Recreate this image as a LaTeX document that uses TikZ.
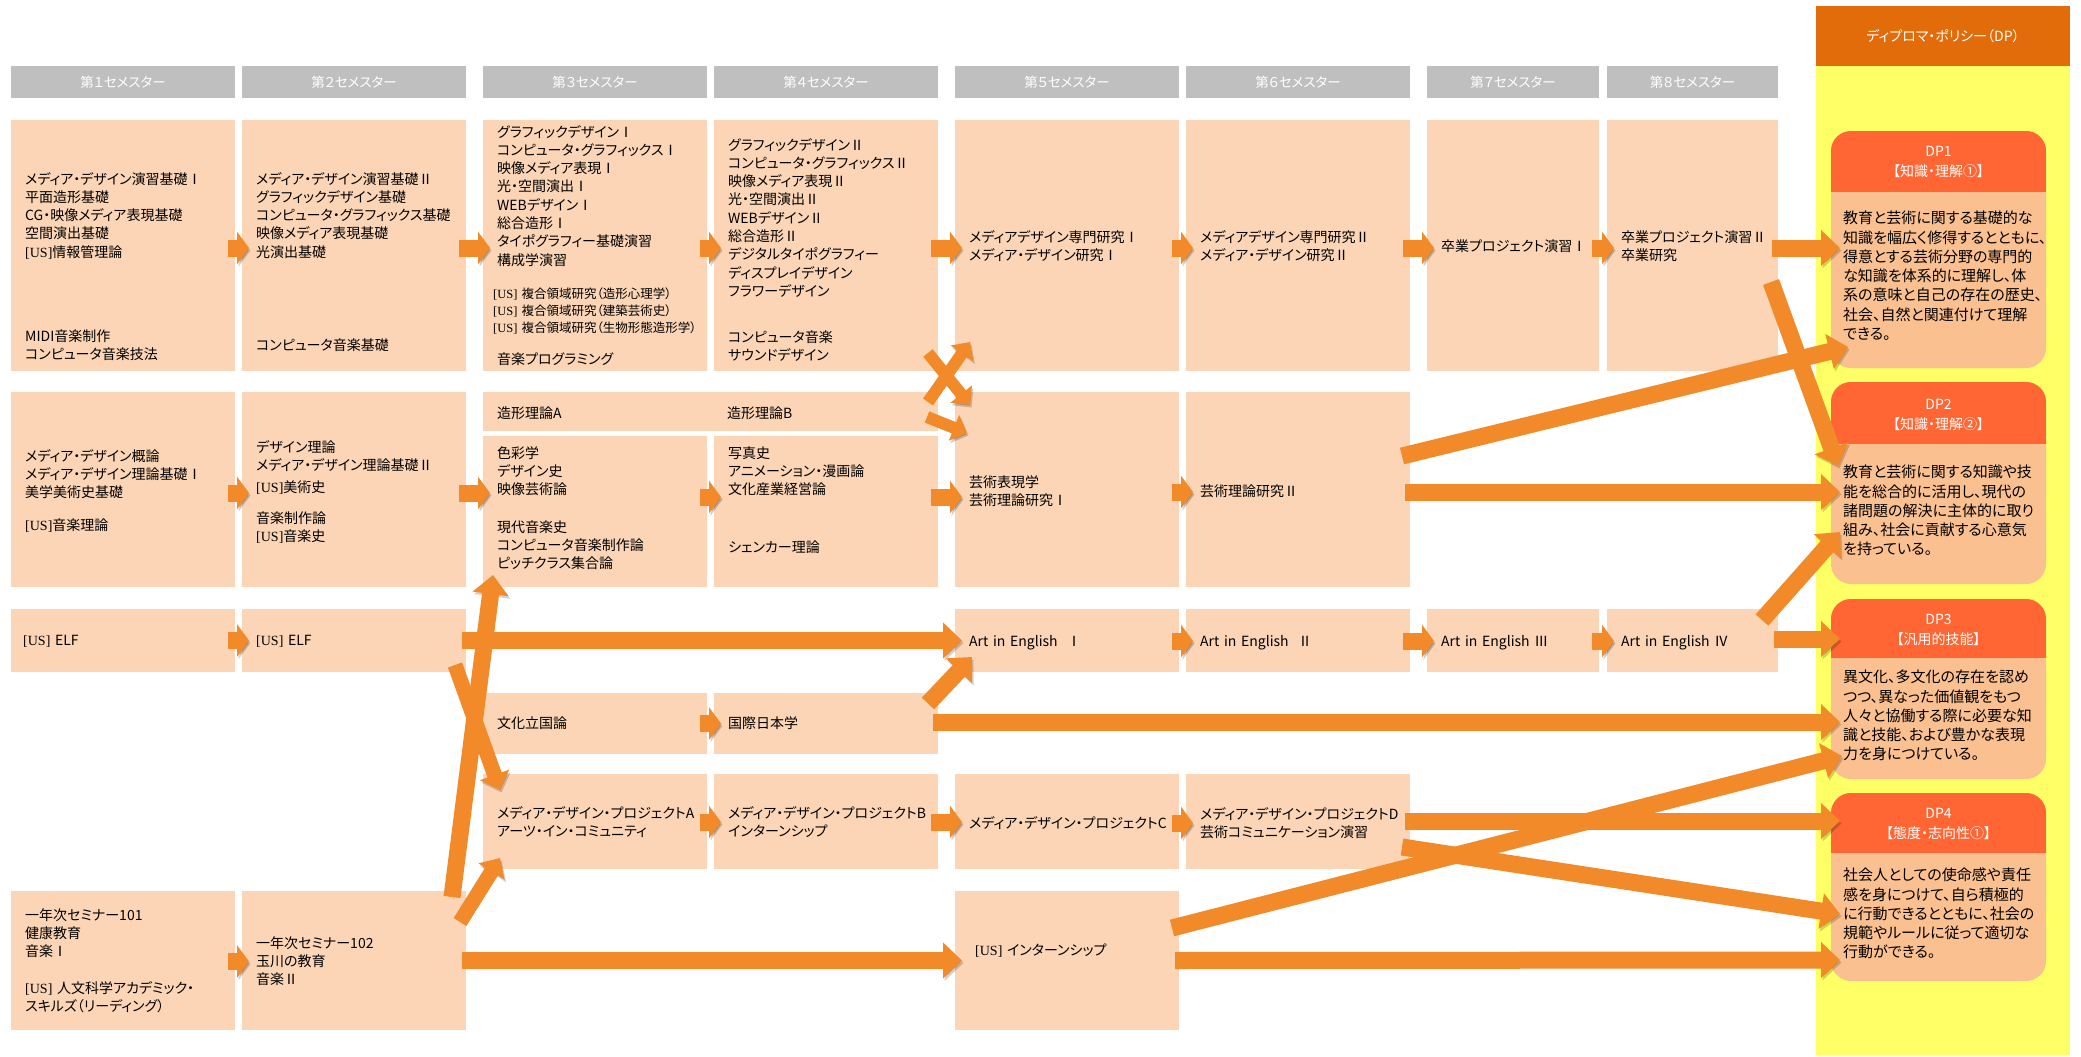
\documentclass[tikz,border=0pt]{standalone}
\usepackage{fontspec}
\setmainfont[RawFeature=+palt]{Noto Sans CJK JP}
\newfontfamily\usfont{Liberation Serif}
\usetikzlibrary{arrows.meta,calc}
\definecolor{boxc}{HTML}{FBD5B5}
\definecolor{hdrc}{HTML}{BFBFBF}
\definecolor{yel}{HTML}{FFFF66}
\definecolor{dptop}{HTML}{E26B0A}
\definecolor{dphead}{HTML}{FF6633}
\definecolor{dpbody}{HTML}{FAC090}
\definecolor{arrc}{HTML}{F28A2A}
\newcommand\usmark{{\usfont[US]}}
\begin{document}
\begin{tikzpicture}[x=1pt,y=-1pt,
  cbox/.style={fill=boxc, draw=none, inner sep=0pt, outer sep=0pt, anchor=north west},
  hbox/.style={fill=hdrc, draw=none, inner sep=0pt, outer sep=0pt, text=white, minimum height=32pt, font=\fontsize{13.5}{15}\selectfont},
  txt/.style={anchor=north west, inner sep=0pt, text width=230pt, align=left, font=\fontsize{14}{18.3}\selectfont, execute at begin node=\strut},
  stxt/.style={txt, font=\fontsize{12.5}{16.7}\selectfont},
  dpbox/.style={fill=dpbody, draw=none, rounded corners=20pt, inner sep=0pt, outer sep=0pt, anchor=north west, minimum width=215pt},
  dphtxt/.style={text=white, align=center, inner sep=0pt, font=\fontsize{14}{20}\selectfont},
  dptxt/.style={anchor=north west, inner sep=0pt, text width=230pt, align=left, font=\fontsize{15}{19.3}\selectfont, execute at begin node=\strut},
  shad/.style={preaction={draw=black, opacity=0.18, transform canvas={shift={(1.5pt,-2.5pt)}}}},
  sarr/.style={shad, draw=arrc, line width=17pt, -{Triangle[length=12pt,width=32pt]}},
  larr/.style={shad, draw=arrc, line width=17pt, -{Triangle[length=19pt,width=35pt]}},
  marr/.style={shad, draw=arrc, line width=15pt, -{Triangle[length=16pt,width=30pt]}},
  xarr/.style={shad, draw=arrc, line width=12pt, -{Triangle[length=14pt,width=27pt]}},
]
\useasboundingbox (0,0) rectangle (2081,1057);
\fill[white] (0,0) rectangle (2081,1057);

% ---------- semester headers ----------
\node[hbox, minimum width=224pt] (h1) at (123,82) {第１セメスター};
\node[hbox, minimum width=224pt] (h2) at (354,82) {第２セメスター};
\node[hbox, minimum width=224pt] (h3) at (595,82) {第３セメスター};
\node[hbox, minimum width=224pt] (h4) at (826,82) {第４セメスター};
\node[hbox, minimum width=224pt] (h5) at (1067,82) {第５セメスター};
\node[hbox, minimum width=224pt] (h6) at (1298,82) {第６セメスター};
\node[hbox, minimum width=172pt] (h7) at (1513,82) {第７セメスター};
\node[hbox, minimum width=171pt] (h8) at (1692.5,82) {第８セメスター};

% ---------- course boxes ----------
% row 1
\node[cbox, minimum width=224pt, minimum height=251pt] (a1) at (11,120) {};
\node[cbox, minimum width=224pt, minimum height=251pt] (a2) at (242,120) {};
\node[cbox, minimum width=224pt, minimum height=251pt] (a3) at (483,120) {};
\node[cbox, minimum width=224pt, minimum height=251pt] (a4) at (714,120) {};
\node[cbox, minimum width=224pt, minimum height=251pt] (a5) at (955,120) {};
\node[cbox, minimum width=224pt, minimum height=251pt] (a6) at (1186,120) {};
\node[cbox, minimum width=172pt, minimum height=251pt] (a7) at (1427,120) {};
\node[cbox, minimum width=171pt, minimum height=251pt] (a8) at (1607,120) {};
% row 2
\node[cbox, minimum width=224pt, minimum height=195pt] (b1) at (11,392) {};
\node[cbox, minimum width=224pt, minimum height=195pt] (b2) at (242,392) {};
\node[cbox, minimum width=455pt, minimum height=39pt] (band) at (483,392) {};
\node[cbox, minimum width=224pt, minimum height=151pt] (b3) at (483,436) {};
\node[cbox, minimum width=224pt, minimum height=151pt] (b4) at (714,436) {};
\node[cbox, minimum width=224pt, minimum height=195pt] (b5) at (955,392) {};
\node[cbox, minimum width=224pt, minimum height=195pt] (b6) at (1186,392) {};
% ELF row
\node[cbox, minimum width=224pt, minimum height=63pt] (e1) at (11,609) {};
\node[cbox, minimum width=224pt, minimum height=63pt] (e2) at (242,609) {};
\node[cbox, minimum width=224pt, minimum height=63pt] (e5) at (955,609) {};
\node[cbox, minimum width=224pt, minimum height=63pt] (e6) at (1186,609) {};
\node[cbox, minimum width=172pt, minimum height=63pt] (e7) at (1427,609) {};
\node[cbox, minimum width=171pt, minimum height=63pt] (e8) at (1607,609) {};
% culture row
\node[cbox, minimum width=224pt, minimum height=61pt] (f3) at (483,693) {};
\node[cbox, minimum width=224pt, minimum height=61pt] (f4) at (714,693) {};
% project row
\node[cbox, minimum width=224pt, minimum height=95pt] (m3) at (483,774) {};
\node[cbox, minimum width=224pt, minimum height=95pt] (m4) at (714,774) {};
\node[cbox, minimum width=224pt, minimum height=95pt] (m5) at (955,774) {};
\node[cbox, minimum width=224pt, minimum height=95pt] (m6) at (1186,774) {};
% seminar row
\node[cbox, minimum width=224pt, minimum height=139pt] (s1) at (11,891) {};
\node[cbox, minimum width=224pt, minimum height=139pt] (s2) at (242,891) {};
\node[cbox, minimum width=224pt, minimum height=139pt] (s5) at (955,891) {};

% ---------- course texts ----------
\node[txt] (a1t) at (25,171) {メディア・デザイン演習基礎Ⅰ\\平面造形基礎\\CG・映像メディア表現基礎\\空間演出基礎\\\usmark{}情報管理論};
\node[txt] (a1u) at (25,328) {MIDI音楽制作\\コンピュータ音楽技法};
\node[txt] (a2t) at (256,171) {メディア・デザイン演習基礎Ⅱ\\グラフィックデザイン基礎\\コンピュータ・グラフィックス基礎\\映像メディア表現基礎\\光演出基礎};
\node[txt] (a2u) at (256,337) {コンピュータ音楽基礎};
\node[txt] (a3t) at (497,124) {グラフィックデザインⅠ\\コンピュータ・グラフィックスⅠ\\映像メディア表現Ⅰ\\光・空間演出Ⅰ\\WEBデザインⅠ\\総合造形Ⅰ\\タイポグラフィー基礎演習\\構成学演習};
\node[stxt] (a3u) at (493,287) {\usmark{} 複合領域研究（造形心理学）\\\usmark{} 複合領域研究（建築芸術史）\\\usmark{} 複合領域研究（生物形態造形学）};
\node[txt] (a3v) at (497,351) {音楽プログラミング};
\node[txt] (a4t) at (728,137) {グラフィックデザインⅡ\\コンピュータ・グラフィックスⅡ\\映像メディア表現Ⅱ\\光・空間演出Ⅱ\\WEBデザインⅡ\\総合造形Ⅱ\\デジタルタイポグラフィー\\ディスプレイデザイン\\フラワーデザイン};
\node[txt] (a4u) at (728,329) {コンピュータ音楽\\サウンドデザイン};
\node[txt] (a5t) at (969,229) {メディアデザイン専門研究Ⅰ\\メディア・デザイン研究Ⅰ};
\node[txt] (a6t) at (1200,229) {メディアデザイン専門研究Ⅱ\\メディア・デザイン研究Ⅱ};
\node[txt] (a7t) at (1441,238) {卒業プロジェクト演習Ⅰ};
\node[txt] (a8t) at (1621,229) {卒業プロジェクト演習Ⅱ\\卒業研究};

\node[txt] (b1t) at (25,448) {メディア・デザイン概論\\メディア・デザイン理論基礎Ⅰ\\美学美術史基礎};
\node[txt] (b1u) at (25,517) {\usmark{}音楽理論};
\node[txt] (b2t) at (256,439) {デザイン理論\\メディア・デザイン理論基礎Ⅱ};
\node[txt] (b2u) at (256,479) {\usmark{}美術史};
\node[txt] (b2v) at (256,510) {音楽制作論\\\usmark{}音楽史};
\node[txt] (bandA) at (497,405) {造形理論A};
\node[txt] (bandB) at (727,405) {造形理論B};
\node[txt] (b3t) at (497,445) {色彩学\\デザイン史\\映像芸術論};
\node[txt] (b3u) at (497,519) {現代音楽史\\コンピュータ音楽制作論\\ピッチクラス集合論};
\node[txt] (b4t) at (728,445) {写真史\\アニメーション・漫画論\\文化産業経営論};
\node[txt] (b4u) at (728,539) {シェンカー理論};
\node[txt] (b5t) at (969,474) {芸術表現学\\芸術理論研究Ⅰ};
\node[txt] (b6t) at (1200,483) {芸術理論研究Ⅱ};

\node[txt] (e1t) at (23,632) {\usmark{} ELF};
\node[txt] (e2t) at (256,632) {\usmark{} ELF};
\node[txt] (e5t) at (969,633) {Art in English\ \ Ⅰ};
\node[txt] (e6t) at (1200,633) {Art in English\ \ Ⅱ};
\node[txt] (e7t) at (1441,633) {Art in English\ Ⅲ};
\node[txt] (e8t) at (1621,633) {Art in English\ Ⅳ};

\node[txt] (f3t) at (497,715) {文化立国論};
\node[txt] (f4t) at (728,715) {国際日本学};

\node[txt] (m3t) at (497,805) {メディア・デザイン・プロジェクトA\\アーツ・イン・コミュニティ};
\node[txt] (m4t) at (728,805) {メディア・デザイン・プロジェクトB\\インターンシップ};
\node[txt] (m5t) at (969,815) {メディア・デザイン・プロジェクトC};
\node[txt] (m6t) at (1200,806) {メディア・デザイン・プロジェクトD\\芸術コミュニケーション演習};

\node[txt] (s1t) at (25,907) {一年次セミナー101\\健康教育\\音楽Ⅰ};
\node[txt] (s1u) at (25,980) {\usmark{} 人文科学アカデミック・\\スキルズ（リーディング）};
\node[txt] (s2t) at (256,935) {一年次セミナー102\\玉川の教育\\音楽Ⅱ};
\node[txt] (s5t) at (975,942) {\usmark{} インターンシップ};

% ---------- diploma policy column ----------
\node[fill=yel, draw=none, inner sep=0pt, anchor=north west, minimum width=254pt, minimum height=989pt] (dpcol) at (1816,66) {};
\node[fill=dptop, draw=none, inner sep=0pt, minimum width=254pt, minimum height=60pt, text=white, font=\fontsize{14}{16}\selectfont] (dphdr) at (1943,36) {ディプロマ・ポリシー（DP）};

\node[dpbox, minimum height=237pt] (dp1) at (1831,131) {};
\node[dpbox, minimum height=202pt] (dp2) at (1831,382) {};
\node[dpbox, minimum height=180pt] (dp3) at (1831,599) {};
\node[dpbox, minimum height=188pt] (dp4) at (1831,793) {};
\begin{scope}
  \clip[rounded corners=20pt] (dp1.north west) rectangle (dp1.south east);
  \fill[dphead] (dp1.north west) rectangle ($(dp1.north east)+(0,61)$);
\end{scope}
\begin{scope}
  \clip[rounded corners=20pt] (dp2.north west) rectangle (dp2.south east);
  \fill[dphead] (dp2.north west) rectangle ($(dp2.north east)+(0,62)$);
\end{scope}
\begin{scope}
  \clip[rounded corners=20pt] (dp3.north west) rectangle (dp3.south east);
  \fill[dphead] (dp3.north west) rectangle ($(dp3.north east)+(0,59)$);
\end{scope}
\begin{scope}
  \clip[rounded corners=20pt] (dp4.north west) rectangle (dp4.south east);
  \fill[dphead] (dp4.north west) rectangle ($(dp4.north east)+(0,60)$);
\end{scope}
\node[dphtxt] (dp1h) at (1938.5,162) {DP1\\【知識・理解①】};
\node[dphtxt] (dp2h) at (1938.5,415) {DP2\\【知識・理解②】};
\node[dphtxt] (dp3h) at (1938.5,630) {DP3\\【汎用的技能】};
\node[dphtxt] (dp4h) at (1938.5,824) {DP4\\【態度・志向性①】};
\node[dptxt] (dp1b) at (1843,210) {教育と芸術に関する基礎的な\\知識を幅広く修得するとともに、\\得意とする芸術分野の専門的\\な知識を体系的に理解し、体\\系の意味と自己の存在の歴史、\\社会、自然と関連付けて理解\\できる。};
\node[dptxt] (dp2b) at (1843,464) {教育と芸術に関する知識や技\\能を総合的に活用し、現代の\\諸問題の解決に主体的に取り\\組み、社会に貢献する心意気\\を持っている。};
\node[dptxt] (dp3b) at (1843,669) {異文化、多文化の存在を認め\\つつ、異なった価値観をもつ\\人々と協働する際に必要な知\\識と技能、および豊かな表現\\力を身につけている。};
\node[dptxt] (dp4b) at (1843,867) {社会人としての使命感や責任\\感を身につけて、自ら積極的\\に行動できるとともに、社会の\\規範やルールに従って適切な\\行動ができる。};

% ---------- short arrows between neighbouring boxes ----------
\draw[sarr] ($(a1.east)+(-7,2.5)$) -- ($(a2.west)+(7,2.5)$);
\draw[sarr] ($(a2.east)+(-7,2.5)$) -- ($(a3.west)+(7,2.5)$);
\draw[sarr] ($(a3.east)+(-7,2.5)$) -- ($(a4.west)+(7,2.5)$);
\draw[sarr] ($(a4.east)+(-7,2.5)$) -- ($(a5.west)+(7,2.5)$);
\draw[sarr] ($(a5.east)+(-7,2.5)$) -- ($(a6.west)+(7,2.5)$);
\draw[sarr] ($(a6.east)+(-7,2.5)$) -- ($(a7.west)+(7,2.5)$);
\draw[sarr] ($(a7.east)+(-7,2.5)$) -- ($(a8.west)+(7,2.5)$);
\draw[sarr] ($(b1.east)+(-7,3.5)$) -- ($(b2.west)+(7,3.5)$);
\draw[sarr] ($(b2.east)+(-7,3.5)$) -- ($(b3.west)+(7,-18.5)$);
\draw[sarr] ($(b3.east)+(-7,-14.5)$) -- ($(b4.west)+(7,-14.5)$);
\draw[sarr] ($(b4.east)+(-7,-14.5)$) -- ($(b5.west)+(7,7.5)$);
\draw[sarr] ($(b5.east)+(-7,2.5)$) -- ($(b6.west)+(7,2.5)$);
\draw[sarr] ($(e1.east)+(-7,0)$) -- ($(e2.west)+(7,0)$);
\draw[sarr] ($(e5.east)+(-7,0.5)$) -- ($(e6.west)+(7,0.5)$);
\draw[sarr] ($(e6.east)+(-7,0.5)$) -- ($(e7.west)+(7,0.5)$);
\draw[sarr] ($(e7.east)+(-7,0.5)$) -- ($(e8.west)+(7,0.5)$);
\draw[sarr] ($(f3.east)+(-7,0)$) -- ($(f4.west)+(7,0)$);
\draw[sarr] ($(m3.east)+(-7,0.5)$) -- ($(m4.west)+(7,0.5)$);
\draw[sarr] ($(m4.east)+(-7,0.5)$) -- ($(m5.west)+(7,0.5)$);
\draw[sarr] ($(m5.east)+(-7,1.5)$) -- ($(m6.west)+(7,1.5)$);
\draw[sarr] ($(s1.east)+(-7,1)$) -- ($(s2.west)+(7,1)$);

% ---------- long arrows ----------
\draw[larr] ($(e2.east)+(-4,0)$) -- ($(e5.west)+(7,0)$);
\draw[marr] ($(e2.north east)+(-11,56)$) -- ($(m3.north west)+(17,16)$);
\draw[marr] ($(s2.north east)+(-6,31)$) -- ($(m3.south west)+(17,-11)$);
\draw[larr] ($(s2.north east)+(-14,6)$) -- ($(b3.south west)+(10,-12)$);
\draw[larr] ($(s2.east)+(-4,0)$) -- ($(s5.west)+(7,0)$);

\draw[xarr] ($(a4.south east)+(-10,-18)$) -- ($(b5.north west)+(15,13)$);
\draw[xarr] ($(band.east)+(-10,-9.5)$) -- ($(a5.south west)+(15,-29)$);
\draw[xarr] ($(band.east)+(-11,5.5)$) -- ($(b5.north west)+(12,41)$);
\draw[larr] ($(f4.east)+(-10,-20)$) -- ($(e5.south west)+(17,-15)$);

\draw[larr] ($(f4.east)+(-5,-1.5)$) -- ($(dp3.west)+(9,33)$);
\draw[larr] ($(a8.east)+(-6,2.5)$) -- ($(dp1.west)+(9,-1.5)$);
\draw[larr] ($(a8.north east)+(-7,162)$) -- ($(dp2.north west)+(7,84)$);
\draw[larr] ($(b6.north east)+(-8,64)$) -- ($(dp1.south west)+(17,-21)$);
\draw[larr] ($(b6.east)+(-5,2.5)$) -- ($(dp2.west)+(9,9)$);
\draw[larr] ($(e8.north east)+(-16,11)$) -- ($(dp2.north west)+(9,150)$);
\draw[larr] ($(e8.east)+(-4,-1.5)$) -- ($(dp3.north west)+(9,40)$);
\draw[larr] ($(m6.east)+(-5,-0.5)$) -- ($(dp4.north west)+(9,28)$);
\draw[larr] ($(m6.north east)+(-8,73)$) -- ($(dp4.north west)+(9,121)$);
\draw[larr] ($(s5.north east)+(-7,37)$) -- ($(dp3.south west)+(11,-23)$);
\draw[larr] ($(s5.east)+(-4,0)$) -- ($(dp4.north west)+(9,167)$);
\end{tikzpicture}
\end{document}
